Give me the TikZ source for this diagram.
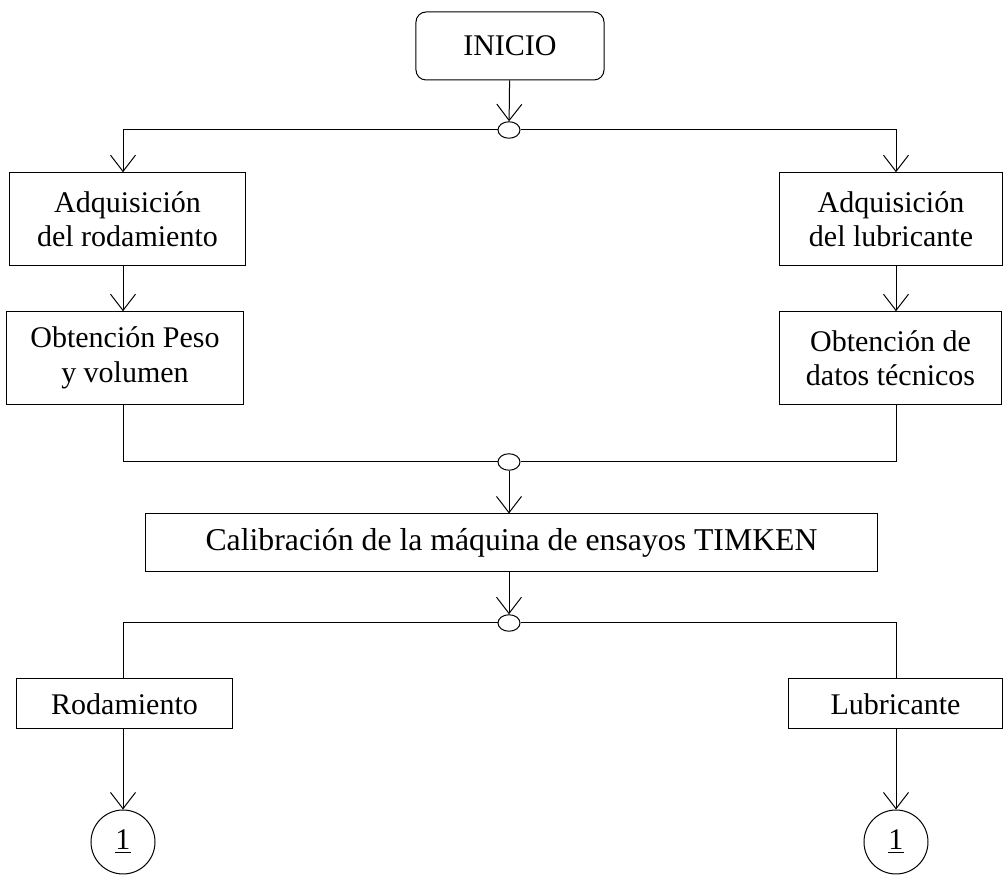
\documentclass[tikz,border=0pt]{standalone}
\usepackage{fontspec}
\setmainfont{Liberation Serif}
\usetikzlibrary{arrows.meta,shapes.geometric}
\tikzset{>={Straight Barb[length=6.5pt,width=10pt]},line width=.8pt,
  every node/.style={font=\fontsize{12}{13.8}\selectfont},
  proc/.style={draw,rectangle,align=center,inner sep=0pt},
  tall/.style={minimum height=37pt},
  flat/.style={minimum height=20pt},
  start/.style={draw,rounded corners=4pt,minimum width=75.2pt,minimum height=27.2pt},
  junction/.style={draw,ellipse,inner sep=0pt,minimum width=8.8pt,minimum height=6.6pt},
  connector/.style={draw,circle,inner sep=0pt,minimum size=25.6pt},
  flow/.style={->},
  link/.style={-}}
\begin{document}
\begin{tikzpicture}[x=.4pt,y=-.4pt]
\useasboundingbox(0,0)rectangle(1003,878);
\coordinate(colL)at(123,0);\coordinate(colR)at(896,0);
\node[start](inicio)at(510,46){INICIO};
\node[junction](j1)at(509,130){};
\node[proc,tall,minimum width=94pt](adqrod)at(127.5,219){Adquisición\\del rodamiento};
\node[proc,tall,minimum width=94.4pt](obtrod)at(125,358){Obtención Peso\\y volumen};
\node[proc,tall,minimum width=88.8pt](adqlub)at(891,219){Adquisición\\del lubricante};
\node[proc,tall,minimum width=88.4pt](obtlub)at(890.5,358){Obtención de\\datos técnicos};
\node[junction](j2)at(509,462){};
\node[proc,minimum width=292.4pt,minimum height=23.2pt,font=\fontsize{12.7}{14}\selectfont](calib)at(511.5,543){Calibración de la máquina de ensayos TIMKEN};
\node[junction](j3)at(509,623){};
\node[proc,flat,minimum width=86pt](rod)at(124.5,704){Rodamiento};
\node[proc,flat,minimum width=85.2pt](lub)at(895.5,704){Lubricante};
\node[connector](c1L)at(123,842){\underline{1}};
\node[connector](c1R)at(896,842){\underline{1}};
\draw[flow](inicio)--(j1);
\draw[flow](j1.west)-|(colL|-adqrod.north);\draw[flow](j1.east)-|(colR|-adqlub.north);
\draw[flow](colL|-adqrod.south)--(colL|-obtrod.north);\draw[flow](colR|-adqlub.south)--(colR|-obtlub.north);
\draw[link](colL|-obtrod.south)|-(j2.west);\draw[link](colR|-obtlub.south)|-(j2.east);
\draw[flow](j2)--(j2|-calib.north);\draw[flow](j3|-calib.south)--(j3);
\draw[link](j3.west)-|(colL|-rod.north);\draw[link](j3.east)-|(colR|-lub.north);
\draw[flow](c1L|-rod.south)--(c1L);\draw[flow](c1R|-lub.south)--(c1R);
\end{tikzpicture}
\end{document}
